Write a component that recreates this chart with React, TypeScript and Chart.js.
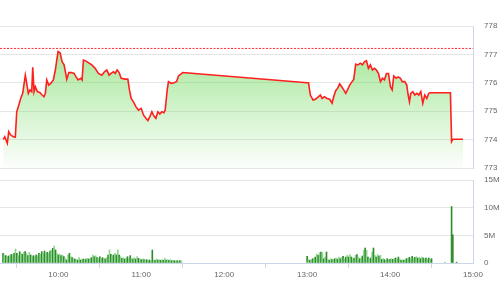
import { useEffect, useRef } from "react";
import { Chart, registerables } from "chart.js";
Chart.register(...registerables);

const X_MIN = "09:17:48";
const X_MAX = "15:00:00";
const hourTicks = ["10:00", "11:00", "12:00", "13:00", "14:00", "15:00"];
const priceTicks = [773, 774, 775, 776, 777, 778];
const refPrice = 777.21;

const priceTimes = [
  "09:20:11", "09:21:12", "09:22:09", "09:23:05", "09:24:06", "09:25:33", "09:27:26", "09:28:53", "09:29:54", "09:31:03",
  "09:32:47", "09:34:14", "09:36:07", "09:37:08", "09:38:18", "09:39:32", "09:40:46", "09:41:29", "09:42:26", "09:43:22",
  "09:44:49", "09:46:46", "09:48:13", "09:49:40", "09:50:37", "09:51:38", "09:53:04", "09:54:31", "09:56:24", "09:57:51",
  "09:58:52", "09:59:49", "10:01:16", "10:02:43", "10:04:10", "10:05:06", "10:06:07", "10:07:34", "10:09:26", "10:11:24",
  "10:12:51", "10:14:18", "10:16:15", "10:17:11", "10:18:08", "10:19:22", "10:21:46", "10:24:13", "10:26:37", "10:29:00",
  "10:31:28", "10:33:21", "10:35:05", "10:36:45", "10:38:12", "10:39:52", "10:41:06", "10:42:32", "10:43:59", "10:45:26",
  "10:48:20", "10:50:17", "10:51:27", "10:52:41", "10:54:21", "10:56:05", "10:57:58", "10:59:56", "11:01:35", "11:03:20",
  "11:04:47", "11:06:14", "11:07:41", "11:09:08", "11:10:34", "11:12:01", "11:13:28", "11:14:55", "11:16:22", "11:17:19",
  "11:18:46", "11:19:42", "11:21:40", "11:23:37", "11:25:30", "11:26:56", "11:30:00", "13:00:00", "13:01:00", "13:02:20",
  "13:04:17", "13:05:58", "13:07:37", "13:09:35", "13:10:49", "13:12:28", "13:14:26", "13:16:19", "13:18:03", "13:19:13",
  "13:20:40", "13:22:07", "13:23:34", "13:25:01", "13:26:28", "13:27:55", "13:29:22", "13:30:48", "13:32:32", "13:33:42",
  "13:35:09", "13:36:36", "13:38:33", "13:40:00", "13:41:27", "13:42:54", "13:44:21", "13:45:47", "13:47:14", "13:48:41",
  "13:50:08", "13:51:35", "13:53:02", "13:54:29", "13:55:56", "13:57:23", "13:58:50", "14:00:17", "14:01:31", "14:02:40",
  "14:04:25", "14:05:52", "14:07:31", "14:08:45", "14:10:38", "14:12:05", "14:13:06", "14:14:02", "14:14:59", "14:16:26",
  "14:17:53", "14:19:20", "14:20:47", "14:22:14", "14:23:40", "14:25:07", "14:26:34", "14:28:01", "14:29:02", "14:43:40",
  "14:44:30", "14:45:24", "14:52:48",
];
const priceValues = [
  774.01, 774.10, 773.99, 773.87, 774.28, 774.16, 774.10, 774.08, 774.98, 775.16,
  775.45, 775.63, 776.27, 775.98, 775.63, 775.75, 775.69, 776.55, 775.69, 775.86,
  775.69, 775.65, 775.57, 775.51, 775.63, 776.10, 775.92, 775.98, 776.10, 776.45,
  776.80, 777.10, 777.06, 776.74, 776.63, 776.39, 776.12, 776.36, 776.36, 776.33,
  776.21, 776.10, 776.16, 776.10, 776.80, 776.78, 776.71, 776.63, 776.51, 776.33,
  776.27, 776.39, 776.45, 776.27, 776.33, 776.39, 776.33, 776.45, 776.36, 776.16,
  776.13, 776.13, 775.75, 775.45, 775.33, 775.16, 775.04, 775.10, 774.87, 774.75,
  774.67, 774.81, 774.98, 774.83, 774.75, 774.98, 774.90, 774.98, 774.95, 775.04,
  775.75, 776.04, 775.98, 776.00, 776.04, 776.24, 776.36, 776.00, 776.00, 775.57,
  775.39, 775.42, 775.49, 775.57, 775.45, 775.51, 775.45, 775.42, 775.28, 775.51,
  775.72, 775.81, 775.96, 775.86, 775.75, 775.63, 775.77, 775.92, 776.04, 776.12,
  776.66, 776.63, 776.69, 776.63, 776.74, 776.78, 776.51, 776.63, 776.45, 776.51,
  776.45, 776.33, 776.04, 776.16, 776.10, 776.33, 776.33, 775.86, 775.75, 776.24,
  776.16, 776.21, 776.16, 776.04, 776.04, 775.92, 775.57, 775.33, 775.63, 775.69,
  775.57, 775.63, 775.57, 775.69, 775.28, 775.57, 775.45, 775.63, 775.65, 775.65,
  773.93, 774.01, 774.01,
];

// Volume (millions), one bar per minute
const volMorningStart = "09:20";
const volMorning = [
  1.75, 1.45, 1.33, 1.14, 1.27, 1.33, 1.57, 1.45, 1.75, 2.53,
  1.75, 1.33, 2.05, 1.75, 1.57, 1.93, 2.05, 1.75, 1.33, 1.93,
  1.45, 1.14, 1.33, 1.14, 1.45, 1.33, 1.75, 1.57, 2.05, 1.75,
  2.17, 1.75, 1.93, 1.75, 2.17, 2.35, 2.65, 3.07, 2.35, 1.75,
  1.45, 1.57, 1.33, 1.45, 1.14, 0.84, 0.54, 1.45, 1.75, 1.14,
  0.96, 0.84, 0.72, 0.6, 0.54, 0.96,
  0.54, 0.6, 0.72, 0.6, 0.72, 0.84, 0.72, 0.84, 0.96, 1.45,
  1.14, 1.33, 0.96, 0.84, 1.14, 0.84, 0.96, 0.84, 0.72, 0.96,
  1.45, 2.35, 1.57, 1.33, 1.45, 1.75, 1.45, 2.35, 1.45, 1.14,
  0.84, 0.96, 0.72, 0.84, 1.14, 0.84, 1.33, 0.84, 0.72, 0.96,
  0.72, 1.14, 0.84, 0.72, 0.6, 0.72, 0.6, 0.54, 0.6, 0.48,
  0.54, 0.36, 2.35, 0.54, 0.48, 0.72, 0.54, 0.6, 0.48, 0.6,
  0.48, 0.84, 0.54, 0.6, 0.48, 0.6, 0.42, 0.48, 0.42, 0.36,
  0.42, 0.36, 0.42, 0.36,
];
const volAfternoonStart = "13:00";
const volAfternoon = [
  1.2, 0.66, 0.48, 0.6, 0.78, 0.9, 1.08, 1.63, 1.39,
  1.87, 1.99, 1.87, 0.78, 1.08, 1.99, 0.66, 0.48, 0.78,
  0.6, 0.66, 0.78, 0.9, 0.66, 1.08, 0.78, 0.96, 1.2, 0.78,
  1.08, 1.39, 1.08, 1.51, 1.08, 0.78, 0.9, 1.39, 1.51, 1.08,
  0.78, 0.9, 1.27, 2.29, 2.71, 2.29, 1.08, 0.78, 0.9, 1.99,
  2.71, 1.39, 1.08, 1.51, 1.27, 1.39, 0.66, 0.78, 0.6, 0.48,
  0.78, 0.6, 0.66, 0.78, 0.66, 0.78, 0.9, 0.66, 1.08, 0.78,
  0.48, 0.6, 0.48, 0.66, 0.78, 0.9, 1.02, 0.78, 1.2, 0.9,
  1.02, 1.14, 0.9, 1.02, 0.78, 1.08, 0.9, 0.78, 0.9, 0.66, 0.9, 0.66, 0.78,
];
const volAtcTimes = ["14:39:36", "14:44:30", "14:45:24", "14:48:06"];
const volAtc = [0.15, 10.2, 5.1, 0.15];
const volTicks = [0, 5, 10, 15];
const volTickLabels = ["0", "5M", "10M", "15M"];

const FONT = { size: 8, family: '"Liberation Sans", Arial, sans-serif' };
const TICK_COLOR = "#666666";
const GRID = "#e6e6e6";
const AXIS = "#ccd6eb";

function toMin(t: string): number {
  const p = t.split(":").map(Number);
  return p[0] * 60 + p[1] + (p[2] || 0) / 60;
}
function fmt(v: number): string {
  const h = Math.floor(v / 60);
  const m = Math.round(v - h * 60);
  return `${h}:${m < 10 ? "0" + m : m}`;
}
const zeroPad = (s: any) => {
  s.paddingTop = 0;
  s.paddingBottom = 0;
  s.paddingLeft = 0;
  s.paddingRight = 0;
};

export default function App() {
  const ref1 = useRef<HTMLCanvasElement>(null);
  const ref2 = useRef<HTMLCanvasElement>(null);

  useEffect(() => {
    const xMin = toMin(X_MIN);
    const xMax = toMin(X_MAX);
    const hourVals = hourTicks.map(toMin);

    const pricePts = priceTimes.map((t, i) => ({ x: toMin(t), y: priceValues[i] }));

    const c1 = new Chart(ref1.current!, {
      type: "line",
      data: {
        datasets: [
          {
            data: pricePts,
            borderColor: "#ff1f1f",
            borderWidth: 1.6,
            pointRadius: 0,
            tension: 0,
            fill: "start",
            backgroundColor: (ctx: any) => {
              const a = ctx.chart.chartArea;
              if (!a) return "rgba(110,215,90,0.4)";
              const g = ctx.chart.ctx.createLinearGradient(0, a.top, 0, a.bottom);
              g.addColorStop(0, "rgba(105,215,85,0.7)");
              g.addColorStop(1, "rgba(105,215,85,0.02)");
              return g;
            },
          },
          {
            data: [
              { x: xMin, y: refPrice },
              { x: xMax, y: refPrice },
            ],
            borderColor: "#ff2a2a",
            borderWidth: 1,
            borderDash: [2, 1.5],
            pointRadius: 0,
            fill: false,
          },
        ],
      },
      options: {
        responsive: false,
        animation: false,
        devicePixelRatio: 1,
        events: [],
        layout: { autoPadding: false, padding: { top: 26, bottom: 4, left: 0, right: 0 } },
        plugins: { legend: { display: false }, tooltip: { enabled: false } },
        scales: {
          x: { type: "linear", min: xMin, max: xMax, display: false },
          y: {
            position: "right",
            min: priceTicks[0],
            max: priceTicks[priceTicks.length - 1],
            afterBuildTicks: (s: any) => {
              s.ticks = priceTicks.map((v) => ({ value: v }));
            },
            ticks: { padding: 11, color: TICK_COLOR, font: FONT },
            grid: { color: GRID, drawTicks: false },
            border: { display: true, color: AXIS },
            afterFit: (s: any) => {
              s.width = 28;
              zeroPad(s);
            },
          },
        },
      },
    } as any);

    const volPts: { x: number; y: number }[] = [];
    const ms = toMin(volMorningStart);
    volMorning.forEach((v, i) => volPts.push({ x: ms + i, y: v }));
    const as = toMin(volAfternoonStart);
    volAfternoon.forEach((v, i) => volPts.push({ x: as + i, y: v }));
    volAtcTimes.forEach((t, i) => volPts.push({ x: toMin(t), y: volAtc[i] }));

    const c2 = new Chart(ref2.current!, {
      type: "bar",
      data: {
        datasets: [
          {
            data: volPts,
            backgroundColor: volPts.map((p, i) =>
              p.y > 4 ? "#2f8f2f" : i % 2 === 0 ? "#2a8c2a" : "#8fd48f"
            ),
            barThickness: 1,
            borderWidth: 0,
          },
        ],
      },
      options: {
        responsive: false,
        animation: false,
        devicePixelRatio: 1,
        events: [],
        layout: { autoPadding: false, padding: { top: 8, bottom: 0, left: 0, right: 0 } },
        plugins: { legend: { display: false }, tooltip: { enabled: false } },
        scales: {
          x: {
            type: "linear",
            min: xMin,
            max: xMax,
            offset: false,
            afterBuildTicks: (s: any) => {
              s.ticks = hourVals.map((v) => ({ value: v }));
            },
            ticks: {
              padding: 2,
              color: TICK_COLOR,
              font: FONT,
              maxRotation: 0,
              autoSkip: false,
              callback: (v: any) => fmt(Number(v)),
            },
            grid: { drawOnChartArea: false, drawTicks: true, tickLength: 5, color: AXIS },
            border: { display: true, color: AXIS },
            afterFit: (s: any) => {
              s.height = 37;
              zeroPad(s);
            },
          },
          y: {
            position: "right",
            min: volTicks[0],
            max: volTicks[volTicks.length - 1],
            afterBuildTicks: (s: any) => {
              s.ticks = volTicks.map((v) => ({ value: v }));
            },
            ticks: {
              padding: 11,
              color: TICK_COLOR,
              font: FONT,
              callback: (v: any) => volTickLabels[volTicks.indexOf(Number(v))],
            },
            grid: { color: GRID, drawTicks: false },
            border: { display: true, color: AXIS },
            afterFit: (s: any) => {
              s.width = 28;
              zeroPad(s);
            },
          },
        },
      },
    } as any);

    return () => {
      c1.destroy();
      c2.destroy();
    };
  }, []);

  return (
    <div style={{ position: "fixed", left: 0, top: 0, width: 501, height: 300, background: "#fff" }}>
      <canvas ref={ref1} width={501} height={172} style={{ position: "absolute", left: 0, top: 0, width: 501, height: 172 }} />
      <canvas ref={ref2} width={501} height={128} style={{ position: "absolute", left: 0, top: 172, width: 501, height: 128 }} />
    </div>
  );
}
